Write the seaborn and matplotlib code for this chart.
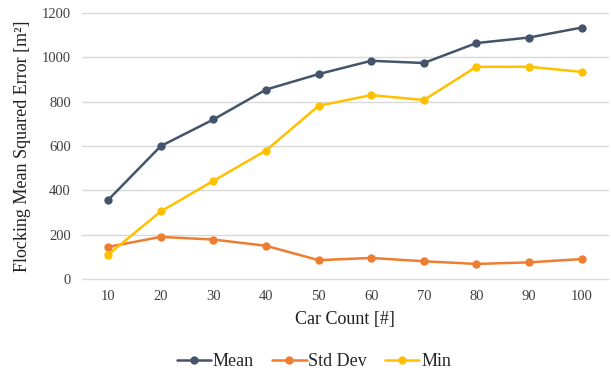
import matplotlib
matplotlib.use("Agg")
import matplotlib.pyplot as plt
import seaborn as sns
import pandas as pd

car_count = [10, 20, 30, 40, 50, 60, 70, 80, 90, 100]
mean_vals = [357, 600, 720, 855, 925, 985, 975, 1065, 1090, 1135]
std_vals = [145, 190, 178, 150, 85, 95, 80, 68, 75, 90]
min_vals = [110, 305, 443, 580, 782, 830, 808, 958, 958, 935]
series_names = ["Mean", "Std Dev", "Min"]
colors = ["#44546A", "#ED7D31", "#FFC000"]
y_ticks = [0, 200, 400, 600, 800, 1000, 1200]

df = pd.DataFrame({
    "Car Count": car_count * 3,
    "Value": mean_vals + std_vals + min_vals,
    "Series": [series_names[0]] * 10 + [series_names[1]] * 10 + [series_names[2]] * 10,
})

sns.set_theme(style="white")
plt.rcParams["font.family"] = ["Liberation Serif", "DejaVu Serif"]

fig = plt.figure(figsize=(6.11, 3.76), dpi=100)
ax = fig.add_axes([0.134, 0.258, 0.861, 0.707])

sns.lineplot(data=df, x="Car Count", y="Value", hue="Series", palette=colors,
             marker="o", markersize=6, markeredgewidth=0, linewidth=1.8, ax=ax,
             legend=True)

ax.set_xlim(5, 105)
ax.set_ylim(0, 1200)
ax.set_xticks(car_count)
ax.set_xticklabels([str(c) for c in car_count])
ax.set_yticks(y_ticks)
ax.set_yticklabels([str(v) for v in y_ticks])
ax.yaxis.grid(True, color="#D9D9D9", linewidth=1)
for gl in ax.yaxis.get_gridlines():
    gl.set_clip_on(False)
ax.xaxis.grid(False)
ax.set_axisbelow(True)
for s in ax.spines.values():
    s.set_visible(False)
ax.tick_params(axis="both", labelsize=10.5, colors="#404040", length=0, pad=8)
ax.set_xlabel("Car Count [#]", fontsize=13, color="#202020", labelpad=6)
ax.set_ylabel("Flocking Mean Squared Error [m²]", fontsize=13, color="#202020", labelpad=8)

handles, labels = ax.get_legend_handles_labels()
ax.get_legend().remove()
fig.legend(handles, labels, loc="center", bbox_to_anchor=(314 / 611, 1 - 362 / 376), ncol=3,
           frameon=False, fontsize=13, handlelength=1.9, columnspacing=1.0,
           handletextpad=0.1)

fig.savefig("out.png", dpi=100)
